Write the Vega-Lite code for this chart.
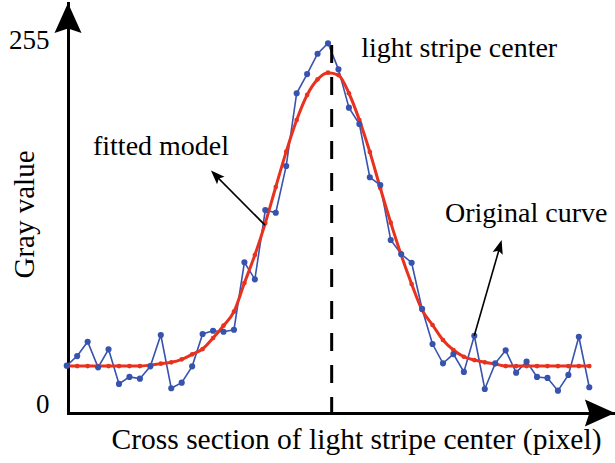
{
  "$schema": "https://vega.github.io/schema/vega-lite/v6.json",
  "width": 547,
  "height": 410,
  "autosize": "none",
  "padding": {"left": 68, "top": 3, "right": 0, "bottom": 50},
  "background": "white",
  "config": {
    "view": {"stroke": null},
    "font": "Liberation Serif",
    "axis": {"grid": false, "ticks": false, "domainColor": "black", "domainWidth": 3, "domainCap": "square", "labelFont": "Liberation Serif", "titleFont": "Liberation Serif", "labelColor": "black", "titleColor": "black", "titleFontWeight": "normal"}
  },
  "data": {"values": [
    {"i": 0, "orig": 27.5, "fit": 27.2},
    {"i": 1, "orig": 34.2, "fit": 27.2},
    {"i": 2, "orig": 44.2, "fit": 27.2},
    {"i": 3, "orig": 26.3, "fit": 27.2},
    {"i": 4, "orig": 38.9, "fit": 27.2},
    {"i": 5, "orig": 14.7, "fit": 27.2},
    {"i": 6, "orig": 19.6, "fit": 27.2},
    {"i": 7, "orig": 18.4, "fit": 27.2},
    {"i": 8, "orig": 27.0, "fit": 27.9},
    {"i": 9, "orig": 48.9, "fit": 28.9},
    {"i": 10, "orig": 11.7, "fit": 29.8},
    {"i": 11, "orig": 15.6, "fit": 31.9},
    {"i": 12, "orig": 27.0, "fit": 35.4},
    {"i": 13, "orig": 49.6, "fit": 39.1},
    {"i": 14, "orig": 51.9, "fit": 46.8},
    {"i": 15, "orig": 51.2, "fit": 55.4},
    {"i": 16, "orig": 52.6, "fit": 65.2},
    {"i": 17, "orig": 99.7, "fit": 85.2},
    {"i": 18, "orig": 87.8, "fit": 104.8},
    {"i": 19, "orig": 136.2, "fit": 127.1},
    {"i": 20, "orig": 134.3, "fit": 152.3},
    {"i": 21, "orig": 167.0, "fit": 177.0},
    {"i": 22, "orig": 217.8, "fit": 199.1},
    {"i": 23, "orig": 231.2, "fit": 216.6},
    {"i": 24, "orig": 245.4, "fit": 227.5},
    {"i": 25, "orig": 252.7, "fit": 232.2},
    {"i": 26, "orig": 234.5, "fit": 230.5},
    {"i": 27, "orig": 207.7, "fit": 217.8},
    {"i": 28, "orig": 196.3, "fit": 199.1},
    {"i": 29, "orig": 159.1, "fit": 176.8},
    {"i": 30, "orig": 153.7, "fit": 151.6},
    {"i": 31, "orig": 115.3, "fit": 127.4},
    {"i": 32, "orig": 105.5, "fit": 104.8},
    {"i": 33, "orig": 99.4, "fit": 84.5},
    {"i": 34, "orig": 67.1, "fit": 66.4},
    {"i": 35, "orig": 42.6, "fit": 55.9},
    {"i": 36, "orig": 29.1, "fit": 45.4},
    {"i": 37, "orig": 35.6, "fit": 38.4},
    {"i": 38, "orig": 23.1, "fit": 33.7},
    {"i": 39, "orig": 48.4, "fit": 31.4},
    {"i": 40, "orig": 11.2, "fit": 29.8},
    {"i": 41, "orig": 29.1, "fit": 28.6},
    {"i": 42, "orig": 38.2, "fit": 27.2},
    {"i": 43, "orig": 22.6, "fit": 27.2},
    {"i": 44, "orig": 30.3, "fit": 27.2},
    {"i": 45, "orig": 19.6, "fit": 27.2},
    {"i": 46, "orig": 18.9, "fit": 27.2},
    {"i": 47, "orig": 10.0, "fit": 27.2},
    {"i": 48, "orig": 21.0, "fit": 27.2},
    {"i": 49, "orig": 47.7, "fit": 27.2},
    {"i": 50, "orig": 12.4, "fit": 27.2}
  ]},
  "encoding": {
    "x": {"type": "quantitative", "scale": {"domain": [0.12, 52.46], "nice": false, "zero": false},
          "axis": {"labels": false, "title": "Cross section of light stripe center (pixel)", "titleFontSize": 29.5, "titleX": 288, "titleY": 35, "titleBaseline": "alphabetic", "titleAlign": "center"}},
    "y": {"type": "quantitative", "scale": {"domain": [-5.59, 280.85], "nice": false, "zero": false},
          "axis": {"values": [0, 255], "labelFontSize": 27, "labelPadding": 19, "title": "Gray value", "titleFontSize": 29, "titleAngle": -90, "titleX": -35, "titleY": 211, "titleBaseline": "alphabetic", "titleAlign": "center"}}
  },
  "layer": [
    {
      "mark": {"type": "line", "color": "#3853AE", "strokeWidth": 1.6},
      "encoding": {"x": {"field": "i"}, "y": {"field": "orig"}}
    },
    {
      "mark": {"type": "line", "color": "#E8321F", "strokeWidth": 3, "interpolate": "monotone"},
      "encoding": {"x": {"field": "i"}, "y": {"field": "fit"}}
    },
    {
      "mark": {"type": "point", "filled": true, "color": "#E8321F", "size": 22, "opacity": 1},
      "encoding": {"x": {"field": "i"}, "y": {"field": "fit"}}
    },
    {
      "mark": {"type": "point", "filled": true, "color": "#3853AE", "size": 38, "opacity": 1},
      "encoding": {"x": {"field": "i"}, "y": {"field": "orig"}}
    },
    {
      "data": {"values": [{}]},
      "mark": {"type": "rule", "color": "black", "strokeWidth": 3, "strokeDash": [18, 14]},
      "encoding": {"x": {"datum": 25.35}, "y": {"datum": 251.5}, "y2": {"datum": -5.59}}
    },
    {
      "data": {"values": [{}]},
      "mark": {"type": "rule", "color": "black", "strokeWidth": 1.6},
      "encoding": {"x": {"datum": 18.97}, "y": {"datum": 125.7}, "x2": {"datum": 14.1}, "y2": {"datum": 161.5}}
    },
    {
      "data": {"values": [{}]},
      "mark": {"type": "rule", "color": "black", "strokeWidth": 1.6},
      "encoding": {"x": {"datum": 38.99}, "y": {"datum": 48.4}, "x2": {"datum": 41.5}, "y2": {"datum": 112.0}}
    },
    {
      "data": {"values": [{}]},
      "mark": {"type": "point", "filled": true, "color": "black", "opacity": 1, "shape": "M0,0L0.75,2L0,1.6L-0.75,2Z", "size": 196, "angle": 315.5},
      "encoding": {"x": {"datum": 13.8}, "y": {"datum": 163.8}}
    },
    {
      "data": {"values": [{}]},
      "mark": {"type": "point", "filled": true, "color": "black", "opacity": 1, "shape": "M0,0L0.75,2L0,1.6L-0.75,2Z", "size": 196, "angle": 16.3},
      "encoding": {"x": {"datum": 41.61}, "y": {"datum": 115.3}}
    },
    {
      "data": {"values": [{}]},
      "mark": {"type": "point", "filled": true, "color": "black", "opacity": 1, "shape": "M0,0L0.9,2L0,1.7L-0.9,2Z", "size": 900, "angle": 0},
      "encoding": {"x": {"datum": 0.12}, "y": {"datum": 280.8}}
    },
    {
      "data": {"values": [{}]},
      "mark": {"type": "point", "filled": true, "color": "black", "opacity": 1, "shape": "M0,0L0.9,2L0,1.7L-0.9,2Z", "size": 900, "angle": 90},
      "encoding": {"x": {"datum": 52.45}, "y": {"datum": -5.59}}
    },
    {
      "data": {"values": [{}]},
      "mark": {"type": "text", "text": "light stripe center", "font": "Liberation Serif", "fontSize": 28, "fontWeight": "normal", "align": "left", "baseline": "alphabetic", "fill": "black"},
      "encoding": {"x": {"datum": 28.18}, "y": {"datum": 243.3}}
    },
    {
      "data": {"values": [{}]},
      "mark": {"type": "text", "text": "fitted model", "font": "Liberation Serif", "fontSize": 28, "fontWeight": "normal", "align": "left", "baseline": "alphabetic", "fill": "black"},
      "encoding": {"x": {"datum": 2.51}, "y": {"datum": 174.7}}
    },
    {
      "data": {"values": [{}]},
      "mark": {"type": "text", "text": "Original curve", "font": "Liberation Serif", "fontSize": 28, "fontWeight": "normal", "align": "left", "baseline": "alphabetic", "fill": "black"},
      "encoding": {"x": {"datum": 36.19}, "y": {"datum": 128.1}}
    }
  ]
}
